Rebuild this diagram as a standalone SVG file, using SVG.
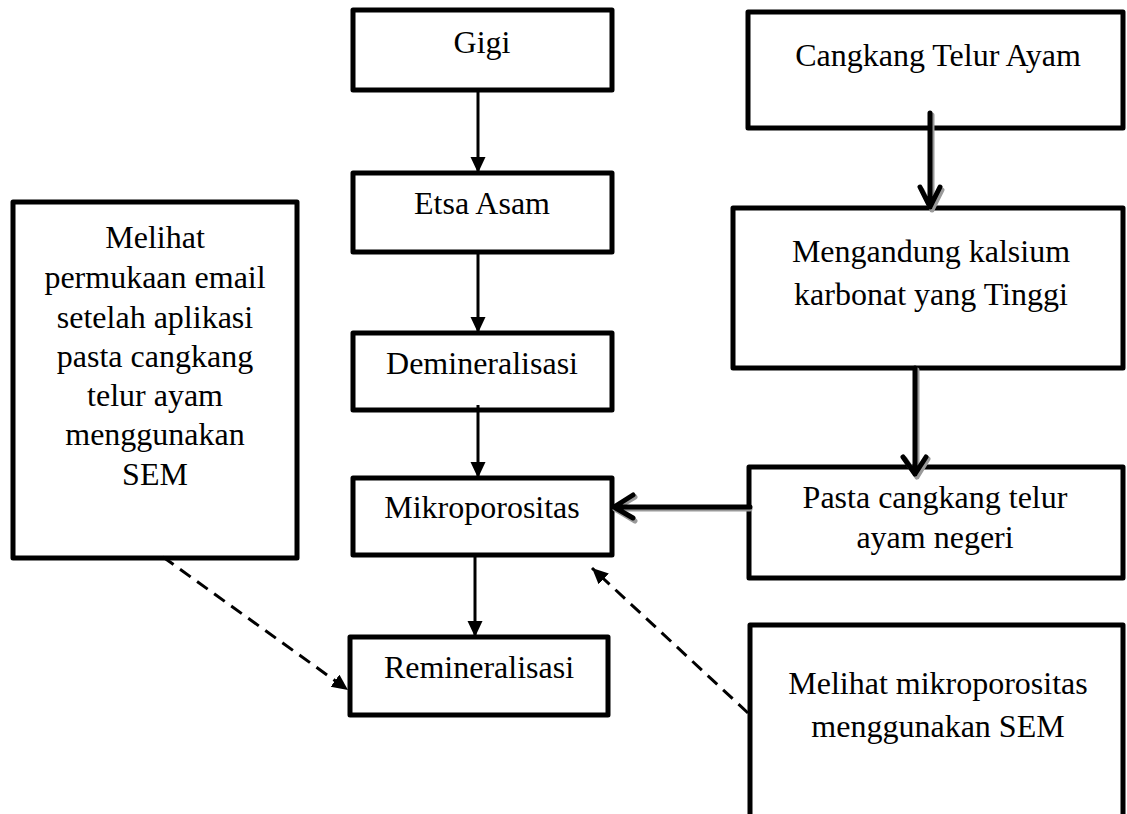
<svg xmlns="http://www.w3.org/2000/svg" width="1127" height="814" viewBox="0 0 1127 814">
<style>
.box{fill:#fff;stroke:#000;stroke-width:5;stroke-linejoin:round}
.t{font-family:"Liberation Serif","Times New Roman",serif;font-size:32px;fill:#000;text-anchor:middle}
.a{stroke:#000;stroke-width:3;fill:none}
.d{stroke:#000;stroke-width:3;fill:none;stroke-dasharray:13 8}
.th{stroke:#000;stroke-width:5;fill:none;stroke-linecap:round;stroke-linejoin:round}
.sh{stroke:#9a9a9a;stroke-width:5;fill:none;stroke-linecap:round;stroke-linejoin:round}
</style>
<defs>
<marker id="tri" markerUnits="userSpaceOnUse" markerWidth="18" markerHeight="16" refX="16" refY="7.5" orient="auto">
<path d="M0,0 L16,7.5 L0,15 z" fill="#000"/>
</marker>
</defs>
<rect width="1127" height="814" fill="#fff"/>
<g id="gigi"><rect class="box" x="353" y="10" width="259" height="80"/><text class="t" x="482" y="53">Gigi</text></g>
<g id="etsa"><rect class="box" x="353" y="173" width="259" height="79"/><text class="t" x="482" y="214">Etsa Asam</text></g>
<g id="demin"><rect class="box" x="353" y="333" width="259" height="77"/><text class="t" x="482" y="374">Demineralisasi</text></g>
<g id="mikro"><rect class="box" x="353" y="478" width="259" height="77"/><text class="t" x="482" y="518">Mikroporositas</text></g>
<g id="remin"><rect class="box" x="350" y="637" width="258" height="78"/><text class="t" x="479" y="678">Remineralisasi</text></g>
<g id="melihat-email"><rect class="box" x="13" y="202" width="284" height="356"/>
<text class="t" x="155"><tspan x="155" y="248">Melihat</tspan><tspan x="155" y="288">permukaan email</tspan><tspan x="155" y="328">setelah aplikasi</tspan><tspan x="155" y="367">pasta cangkang</tspan><tspan x="155" y="406">telur ayam</tspan><tspan x="155" y="445">menggunakan</tspan><tspan x="155" y="485">SEM</tspan></text></g>
<g id="cangkang"><rect class="box" x="748" y="12" width="375" height="116"/><text class="t" x="938" y="66">Cangkang Telur Ayam</text></g>
<g id="mengandung"><rect class="box" x="733" y="208" width="390" height="160"/>
<text class="t"><tspan x="931" y="262">Mengandung kalsium</tspan><tspan x="931" y="305">karbonat yang Tinggi</tspan></text></g>
<g id="pasta"><rect class="box" x="749" y="467" width="374" height="111"/>
<text class="t"><tspan x="935" y="508">Pasta cangkang telur</tspan><tspan x="935" y="548">ayam negeri</tspan></text></g>
<g id="melihat-mikro"><path class="box" d="M750,830 L750,625 L1123,625 L1123,830"/>
<text class="t"><tspan x="938" y="694">Melihat mikroporositas</tspan><tspan x="938" y="737">menggunakan SEM</tspan></text></g>
<g id="connectors">
<line class="a" x1="478" y1="90" x2="478" y2="173" marker-end="url(#tri)"/>
<line class="a" x1="478" y1="252" x2="478" y2="333" marker-end="url(#tri)"/>
<line class="a" x1="478" y1="405" x2="478" y2="478" marker-end="url(#tri)"/>
<line class="a" x1="475" y1="555" x2="475" y2="637" marker-end="url(#tri)"/>
<line class="d" x1="163" y1="557" x2="348" y2="690" marker-end="url(#tri)"/>
<line class="d" x1="748" y1="713" x2="592" y2="568" marker-end="url(#tri)"/>
<g id="arrow-cangkang">
<path class="sh" d="M932,115 L932,210 M922,190 L932,210 L942,190"/>
<path class="th" d="M930,113 L930,207 M920,187 L930,207 L940,187"/>
</g>
<g id="arrow-mengandung">
<path class="sh" d="M917,370 L917,477 M905,459 L917,477 L928,459"/>
<path class="th" d="M915,368 L915,474 M903,457 L915,474 L926,457"/>
</g>
<g id="arrow-pasta">
<path class="sh" d="M750,509 L615,509 M635,497 L615,509 L635,521"/>
<path class="th" d="M750,507 L614,507 M633,495 L614,507 L633,518"/>
</g>
</g>
</svg>
